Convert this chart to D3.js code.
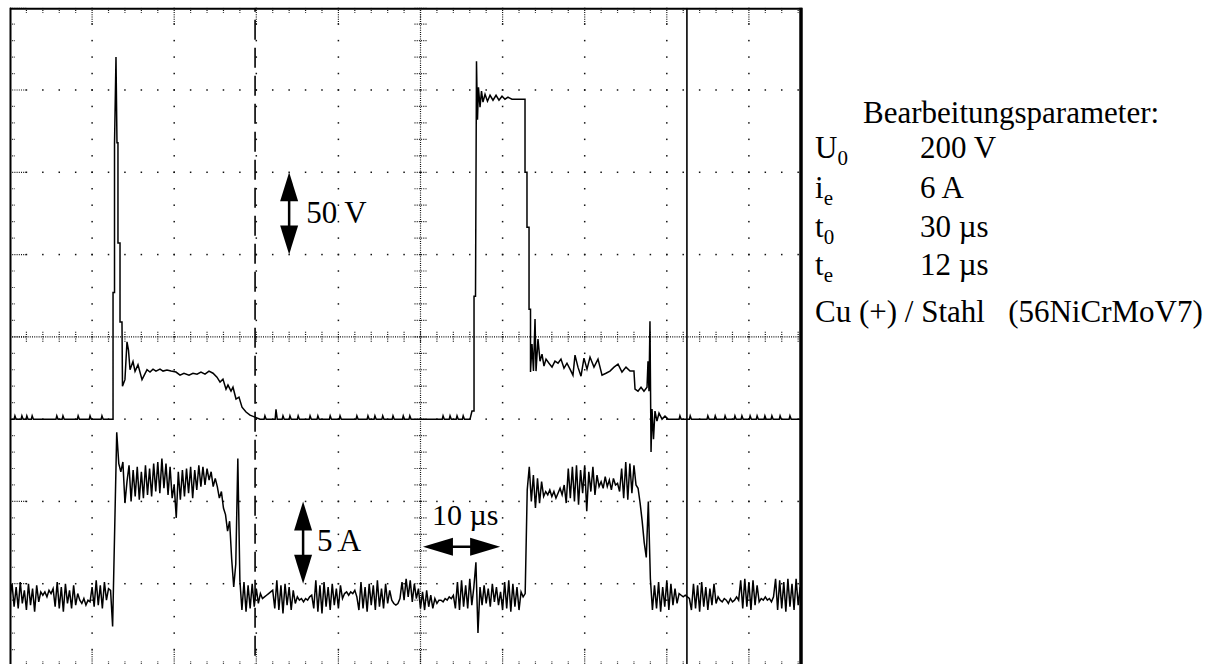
<!DOCTYPE html>
<html>
<head>
<meta charset="utf-8">
<script src="https://cdn.jsdelivr.net/npm/d3@7"></script>
<style>
body { margin: 0; background: #fff; }
svg text { font-family: 'Liberation Serif', 'Times New Roman', serif; fill: #000; }
</style>
</head>
<body>
<svg width="1221" height="664"></svg>
<script>
// ---- data ----
// current trace, one sample every 0.25 µs starting at t = 0 (A)
const currentStep = 0.25;
const currentA = [
  // baseline before first discharge
  -0.8,0.0,-1.4,-0.2,-1.5,0.1,-1.2,-0.4,-1.6,0.0,-1.3,-0.3,-1.7,-0.1,-1.1,-0.5,
  -0.7,-0.5,-0.8,-0.4,-0.6,-0.3,
  -1.4,0.1,-1.5,-0.2,-1.7,0.0,-1.2,-0.4,-1.5,-0.1,-1.3,-0.6,
  -1.0,-1.2,-0.9,-1.3,-1.0,-1.1,
  -0.2,-1.4,0.2,-1.3,-0.1,-1.5,0.1,-1.0,-0.3,-0.4,
  // first discharge
  -2.6,3.3,9.2,7.3,6.8,
  7.4,4.9,6.2,7.2,5.0,6.9,5.3,7.1,5.1,6.8,
  5.2,7.2,5.4,7.0,5.3,7.3,5.6,7.4,5.5,7.6,
  5.8,7.3,5.4,7.1,5.2,6.0,4.0,6.8,5.1,6.9,
  5.3,7.0,5.5,7.1,5.2,6.9,5.7,7.2,5.9,7.1,
  6.0,7.0,6.3,6.8,5.9,6.4,
  5.9,5.2,5.6,4.6,4.2,3.2,3.8,1.5,-0.2,1.2,7.6,0.2,
  // pause
  -1.6,0.1,-1.7,-0.1,-1.5,0.0,-1.4,-0.3,-1.2,-0.6,
  -0.9,-0.8,-0.7,-0.6,-0.5,-0.4,
  -1.5,0.2,-1.6,-0.1,-1.8,0.0,-1.3,-0.2,-1.6,-0.4,-1.2,-0.8,
  -1.0,-0.9,-1.1,-0.9,-1.0,-0.8,-0.7,
  -1.5,0.2,-1.7,-0.1,-1.8,0.1,-1.4,-0.2,-1.6,0.0,-1.3,-0.3,-1.5,-0.1,-0.9,
  -0.6,-0.5,-0.7,-0.5,-0.6,-0.4,-0.8,
  -1.6,0.1,-1.5,-0.2,-1.7,0.0,-1.3,-0.1,-1.6,0.2,-1.4,-0.3,-1.5,0.0,-1.2,-0.4,-1.0,
  -1.2,-1.3,-1.2,-0.9,
  0.1,-1.0,0.3,-0.8,0.2,-1.1,0.0,-0.9,-0.3,
  -1.5,-0.5,-1.6,-0.4,-1.4,-0.7,-1.5,-0.9,-1.2,-1.0,
  -1.0,-1.1,-0.9,-1.0,-0.8,-0.9,-0.7,
  -1.5,0.1,-1.6,0.2,-1.4,-0.1,-1.5,0.3,-1.3,-0.2,
  1.3,-3.0,
  -0.2,-1.3,-0.1,-1.2,-0.3,-1.4,0.0,-1.1,-0.2,-1.3,-0.5,-1.6,0.1,-1.5,0.2,-1.7,0.0,-1.4,-0.2,-1.6,-0.5,-0.8,
  -0.6,
  // second discharge
  5.7,7.1,
  5.0,6.6,4.6,6.4,4.9,6.2,5.3,
  5.6,5.4,5.7,5.3,5.6,5.2,5.5,5.8,5.4,6.0,
  4.9,7.0,5.2,7.1,5.0,7.2,4.8,6.9,5.5,7.2,4.4,6.8,5.6,7.1,5.4,6.6,5.9,
  6.2,5.8,6.5,5.9,6.3,5.7,6.4,6.0,6.1,5.6,
  7.0,5.2,7.4,5.1,7.3,5.5,7.2,6.0,5.8,
  4.9,3.8,2.5,1.6,5.0,0.3,-1.6,
  // baseline after
  -0.1,-1.5,0.1,-1.7,-0.2,-1.4,0.2,-1.6,0.0,-1.3,-0.3,-1.2,-0.6,
  -0.7,-0.8,-0.7,-0.8,-0.9,
  -1.6,0.0,-1.5,-0.1,-1.7,0.1,-1.4,-0.2,-1.6,-0.3,-1.3,0.0,-1.2,-0.8,
  -1.0,-1.1,-0.9,-1.0,-1.2,-0.9,-1.1,-1.0,-0.8,-1.0,
  0.2,-1.5,0.3,-1.4,0.1,-1.6,0.2,-1.3,-0.1,-1.1,
  -0.9,-1.0,-0.8,-1.0,-0.9,-1.1,-0.8,
  0.3,-1.6,0.2,-1.5,0.1,-1.7,0.3,-1.4,0.0,-1.6,0.3,-1.3,-0.2,-1.5
];

// voltage trace as [time µs, volts]
const voltageV = [
  [0,0],[0.5,0],[0.6,2],[0.75,0],[1.35,0],[1.45,2],[1.6,0],[1.95,0],[2.05,2],[2.2,0],
  [2.6,0],[2.7,2],[2.85,0],[5.6,0],[5.7,2],[5.85,0],[6.35,0],[6.45,2],[6.6,0],
  [8.2,0],[8.3,2],[8.45,0],[9.65,0],[9.75,2],[9.9,0],[11.1,0],[11.2,2],[11.35,0],
  [12.55,0],[12.55,77],[12.73,77],[12.73,167],[12.91,220],[13.03,168],[13.15,168],
  [13.15,107],[13.4,107],[13.4,59],[13.64,59],[13.7,20],[14.0,24],[14.25,47],
  [14.43,42],[14.62,30],[14.98,35],[15.23,29],[15.59,33],[16.08,24],[16.69,30],
  [17.05,28.6],[17.42,30.4],[17.78,29.2],[18.27,30.4],[18.64,29.2],[19.12,29.8],
  [19.61,29.2],[20.22,28.6],[20.71,26.7],[21.19,27.9],[21.8,26.7],[22.29,27.9],
  [22.78,27.3],[23.26,28.6],[23.75,27.3],[24.24,29.2],[24.73,27.9],[25.21,25.5],
  [25.58,22.5],[25.94,24.3],[26.31,18.2],[26.55,20.7],[26.92,17],[27.16,19.4],
  [27.53,12.2],[27.89,13.4],[28.26,7.3],[28.75,4.3],[29.23,2.4],[29.84,1.2],[30.45,0],
  [30.95,0],[31.05,2],[31.2,0],[32.3,0],[32.4,6],[32.55,0],[33.15,0],[33.25,2],[33.4,0],
  [34.0,0],[34.1,2],[34.25,0],[35.0,0],[35.1,2],[35.25,0],[36.45,0],[36.55,2],[36.7,0],
  [37.4,0],[37.5,2],[37.65,0],[38.9,0],[39.0,2],[39.15,0],[40.1,0],[40.2,2],[40.35,0],
  [42.15,0],[42.25,2],[42.4,0],[43.5,0],[43.6,2],[43.75,0],[44.35,0],[44.45,2],[44.6,0],
  [45.3,0],[45.4,2],[45.55,0],[46.55,0],[46.65,2],[46.8,0],[47.8,0],[47.9,2],[48.05,0],
  [48.6,0],[48.7,2],[48.85,0],[52.65,0],[52.75,2],[52.9,0],[53.5,0],[53.6,2],[53.75,0],
  [54.35,0],[54.45,2],[54.6,0],[55.1,0],[55.2,2],[55.35,0],
  [56.03,0],[56.27,4.9],[56.52,4.9],[56.52,74.7],[56.7,74.7],[56.82,217.5],[56.94,182],
  [57.06,201.7],[57.25,189.5],[57.43,199.3],[57.61,192.6],[57.86,197.4],[58.16,193.2],
  [58.47,196.8],[58.83,193.8],[59.2,196.8],[59.56,193.8],[59.93,196.2],[60.29,194.4],
  [60.66,195.6],[61.14,194.4],[62.73,194.4],[62.73,150],[62.97,150],[62.97,116.6],
  [63.22,116.6],[63.22,66.8],[63.4,66.8],[63.4,28.6],[63.58,45.6],[63.76,29.2],
  [63.95,60.8],[64.07,29.2],[64.31,48.6],[64.56,35.2],[64.8,39.5],[65.04,32.2],
  [65.29,36.5],[65.65,34],[66.02,31.6],[66.38,35.2],[66.75,34],[67.11,36.5],[67.48,31],
  [67.84,34],[68.21,30.4],[68.57,26.7],[68.82,38.9],[69.18,31.6],[69.55,26.1],
  [69.91,37.1],[70.28,30.4],[70.65,37.7],[71.13,31.6],[71.62,36.5],[72.11,26.7],
  [72.59,27.9],[73.08,29.2],[73.57,31.6],[74.06,33.4],[74.54,28.6],[75.03,31.6],
  [75.52,29.2],[76.0,29.2],[76.13,18.2],[76.49,17],[76.86,19.4],[77.22,17],[77.59,19.4],
  [77.71,35.2],[77.83,17],[77.95,59.5],[78.08,-20],[78.2,6.1],[78.38,-12.2],[78.56,4.9],
  [78.8,-1.2],[79.05,3.6],[79.42,0],[79.78,1.8],[80.15,0],
  [81.5,0],[81.6,2],[81.75,0],[82.75,0],[82.85,2],[83.0,0],[84.9,0],[85.0,2],[85.15,0],
  [85.8,0],[85.9,2],[86.05,0],[87.0,0],[87.1,2],[87.25,0],[88.2,0],[88.3,2],[88.45,0],
  [89.05,0],[89.15,2],[89.3,0],[90.05,0],[90.15,2],[90.3,0],[90.9,0],[91.0,2],[91.15,0],
  [91.85,0],[91.95,2],[92.1,0],[92.7,0],[92.8,2],[92.95,0],[93.7,0],[93.8,2],[93.95,0],
  [94.9,0],[95.0,2],[95.15,0],[97,0]
];

// cursor positions (µs)
const dashedCursorT = 29.85;
const solidCursorT = 82.45;

// processing parameters
const paramTitle = 'Bearbeitungsparameter:';
const paramSymbols = ['U', 'i', 't', 't'];
const paramSubs = ['0', 'e', '0', 'e'];
const paramValues = ['200 V', '6 A', '30 µs', '12 µs'];
const paramMaterial = 'Cu (+) / Stahl   (56NiCrMoV7)';

// ---- drawing ----
const svg = d3.select('svg');

const plotLeft = 10, plotRight = 801, plotTop = 7.7, plotBottom = 666;

const xScale = d3.scaleLinear().domain([0, 100]).range([10, 831]);
const yV = d3.scaleLinear().domain([-150, 250]).range([plotBottom, plotTop]);
const yI = d3.scaleLinear().domain([-5, 35]).range([plotBottom, plotTop]);

const majorT = d3.range(0, 101, 10);
const minorT = d3.range(0, 101, 2);
const majorV = d3.range(-150, 251, 50);
const minorV = d3.range(-150, 251, 10);
const centerT = 50, centerV = 50;

svg.append('defs').append('clipPath').attr('id', 'plot')
  .append('rect').attr('x', plotLeft).attr('y', plotTop)
  .attr('width', plotRight - plotLeft).attr('height', plotBottom - plotTop);

const grid = svg.append('g').attr('clip-path', 'url(#plot)').attr('fill', '#111');

// dotted major grid lines
majorT.filter(t => t > 0 && t < 100 && t !== centerT).forEach(t => {
  minorV.forEach(v => {
    grid.append('rect')
      .attr('x', xScale(t) - 0.75).attr('y', yV(v) - 0.75)
      .attr('width', 1.5).attr('height', 1.5);
  });
});
majorV.filter(v => v > -150 && v < 250 && v !== centerV).forEach(v => {
  minorT.forEach(t => {
    grid.append('rect')
      .attr('x', xScale(t) - 0.75).attr('y', yV(v) - 0.75)
      .attr('width', 1.5).attr('height', 1.5);
  });
});

const dotted = sel => sel.attr('stroke', '#111').attr('stroke-width', 1.2)
  .attr('stroke-dasharray', '1,1.2');

// center cross with minor ticks
grid.append('line')
  .attr('x1', plotLeft).attr('x2', 831)
  .attr('y1', yV(centerV)).attr('y2', yV(centerV)).call(dotted);
grid.append('line')
  .attr('x1', xScale(centerT)).attr('x2', xScale(centerT))
  .attr('y1', plotTop).attr('y2', plotBottom).call(dotted);
minorT.forEach(t => {
  grid.append('line')
    .attr('x1', xScale(t)).attr('x2', xScale(t))
    .attr('y1', yV(centerV) - 5).attr('y2', yV(centerV) + 5).call(dotted);
});
minorV.forEach(v => {
  grid.append('line')
    .attr('x1', xScale(centerT) - 6).attr('x2', xScale(centerT) + 6)
    .attr('y1', yV(v)).attr('y2', yV(v)).call(dotted);
});

// border ticks
minorT.forEach(t => {
  const len = t % 10 === 0 ? 16 : 5;
  grid.append('line').attr('x1', xScale(t)).attr('x2', xScale(t))
    .attr('y1', plotTop).attr('y2', plotTop + len).call(dotted);
  grid.append('line').attr('x1', xScale(t)).attr('x2', xScale(t))
    .attr('y1', plotBottom).attr('y2', plotBottom - len).call(dotted);
});
minorV.forEach(v => {
  const len = v % 50 === 0 ? 16 : 5;
  grid.append('line').attr('x1', plotLeft).attr('x2', plotLeft + len)
    .attr('y1', yV(v)).attr('y2', yV(v)).call(dotted);
});

// cursors
const plot = svg.append('g').attr('clip-path', 'url(#plot)');
plot.append('line')
  .attr('x1', xScale(dashedCursorT)).attr('x2', xScale(dashedCursorT))
  .attr('y1', plotTop).attr('y2', plotBottom)
  .attr('stroke', '#000').attr('stroke-width', 1.6)
  .attr('stroke-dasharray', '20,8').attr('stroke-dashoffset', -12);
plot.append('line')
  .attr('x1', xScale(solidCursorT)).attr('x2', xScale(solidCursorT))
  .attr('y1', plotTop).attr('y2', plotBottom)
  .attr('stroke', '#000').attr('stroke-width', 1.6);

// traces
const voltageLine = d3.line()
  .x(d => xScale(d[0]))
  .y(d => yV(d[1]));
const currentLine = d3.line()
  .x((d, i) => xScale(i * currentStep))
  .y(d => yI(d));

plot.append('path').datum(voltageV)
  .attr('d', voltageLine)
  .attr('fill', 'none').attr('stroke', '#000').attr('stroke-width', 1.5);
plot.append('path').datum(currentA)
  .attr('d', currentLine)
  .attr('fill', 'none').attr('stroke', '#000').attr('stroke-width', 1.5);

// frame
svg.append('line').attr('x1', plotLeft).attr('x2', plotRight + 1)
  .attr('y1', plotTop + 1).attr('y2', plotTop + 1)
  .attr('stroke', '#000').attr('stroke-width', 2);
svg.append('line').attr('x1', plotLeft + 0.5).attr('x2', plotLeft + 0.5)
  .attr('y1', plotTop).attr('y2', plotBottom)
  .attr('stroke', '#000').attr('stroke-width', 2);
svg.append('line').attr('x1', plotRight).attr('x2', plotRight)
  .attr('y1', plotTop).attr('y2', plotBottom)
  .attr('stroke', '#000').attr('stroke-width', 3.5);

// scale arrows
const vArrow = (cx, y1, y2) => {
  const g = svg.append('g').attr('fill', '#000');
  g.append('line').attr('x1', cx).attr('x2', cx).attr('y1', y1 + 20).attr('y2', y2 - 20)
    .attr('stroke', '#000').attr('stroke-width', 2.5);
  g.append('path').attr('d', `M${cx},${y1} L${cx - 9},${y1 + 29} L${cx + 9},${y1 + 29} Z`);
  g.append('path').attr('d', `M${cx},${y2} L${cx - 9},${y2 - 29} L${cx + 9},${y2 - 29} Z`);
};
const hArrow = (cy, x1, x2) => {
  const g = svg.append('g').attr('fill', '#000');
  g.append('line').attr('y1', cy).attr('y2', cy).attr('x1', x1 + 20).attr('x2', x2 - 20)
    .attr('stroke', '#000').attr('stroke-width', 2.5);
  g.append('path').attr('d', `M${x1},${cy} L${x1 + 30},${cy - 9} L${x1 + 30},${cy + 9} Z`);
  g.append('path').attr('d', `M${x2},${cy} L${x2 - 30},${cy - 9} L${x2 - 30},${cy + 9} Z`);
};

vArrow(xScale(34), yV(150), yV(100));
svg.append('text').attr('x', xScale(34) + 17).attr('y', yV(125) + 10)
  .attr('font-size', 31).text('50 V');

vArrow(xScale(35.7), yI(5), yI(0));
svg.append('text').attr('x', xScale(35.7) + 14).attr('y', yI(2.5) + 8)
  .attr('font-size', 31).text('5 A');

hArrow(yI(2.25), xScale(50.3), xScale(59.7));
svg.append('text').attr('x', xScale(51.4)).attr('y', yI(2.25) - 22)
  .attr('font-size', 30).text('10 µs');

// parameter block
const info = svg.append('g');
info.append('text').attr('x', 863).attr('y', 123).attr('font-size', 31).text(paramTitle);
const rowY = [158, 198, 237, 275];
paramSymbols.forEach((s, i) => {
  const t = info.append('text').attr('x', 815).attr('y', rowY[i]).attr('font-size', 31);
  t.append('tspan').text(s);
  t.append('tspan').attr('font-size', 21).attr('dy', 7).text(paramSubs[i]);
  info.append('text').attr('x', 920).attr('y', rowY[i]).attr('font-size', 31).text(paramValues[i]);
});
info.append('text').attr('x', 815).attr('y', 322).attr('font-size', 31)
  .style('white-space', 'pre').text(paramMaterial);
</script>
</body>
</html>
